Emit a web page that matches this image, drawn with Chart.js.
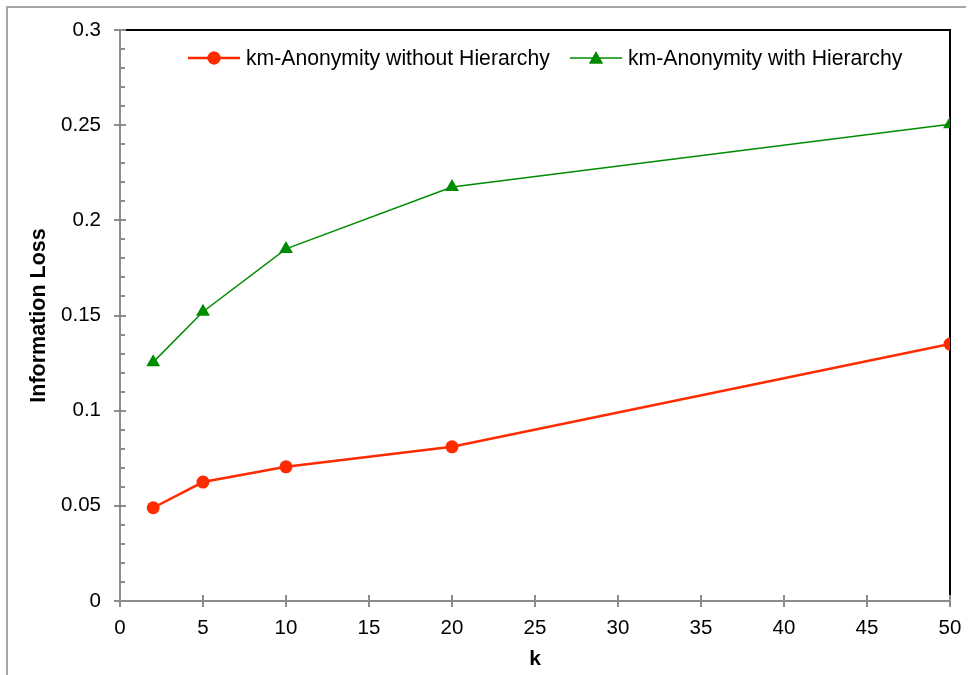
<!DOCTYPE html>
<html><head><meta charset="utf-8">
<script src="https://cdn.jsdelivr.net/npm/chart.js@4/dist/chart.umd.min.js"></script>
<style>html,body{margin:0;padding:0;background:#fff;overflow:hidden}#wrap{position:relative;width:973px;height:675px}</style>
</head><body><div id="wrap"><canvas id="c" width="973" height="675"></canvas></div>
<script>
// ---- data ----
const kValues = [2, 5, 10, 20, 50];
const withoutHierarchy = [0.049, 0.0625, 0.0705, 0.081, 0.135];
const withHierarchy = [0.1255, 0.152, 0.185, 0.2175, 0.2505];
const seriesNames = ['km-Anonymity without Hierarchy', 'km-Anonymity with Hierarchy'];
const xTitle = 'k';
const yTitle = 'Information Loss';
const yMajorLabels = ['0', '0.05', '0.1', '0.15', '0.2', '0.25', '0.3'];

// ---- styles ----
const RED = '#ff2a00', GREEN = '#008c00', AXIS = '#8c8c8c';
const FONT = "'Liberation Sans', Arial, sans-serif";
Chart.defaults.font.family = FONT;
Chart.defaults.color = '#000';

const isMajor = v => Math.round(v * 100) % 5 === 0;

const decor = {
  id: 'decor',
  beforeDraw(chart) {
    const c = chart.ctx;
    c.save();
    c.strokeStyle = '#a6a6a6'; c.lineWidth = 2;
    c.beginPath(); c.moveTo(7, 676); c.lineTo(7, 7); c.lineTo(966, 7); c.stroke();
    c.restore();
  },
  beforeDatasetsDraw(chart) {
    const c = chart.ctx, a = chart.chartArea;
    const xs = chart.scales.x, ys = chart.scales.y;
    c.save();
    c.strokeStyle = '#000'; c.lineWidth = 2;
    c.beginPath(); c.moveTo(a.left, a.top); c.lineTo(a.right, a.top); c.lineTo(a.right, a.bottom); c.stroke();
    c.strokeStyle = AXIS; c.lineWidth = 2;
    c.beginPath();
    ys.ticks.forEach(t => {
      const py = Math.round(ys.getPixelForValue(t.value));
      const len = isMajor(t.value) ? 6 : 5;
      c.moveTo(a.left, py); c.lineTo(a.left + len, py);
    });
    xs.ticks.forEach(t => {
      const px = Math.round(xs.getPixelForValue(t.value));
      c.moveTo(px, a.bottom); c.lineTo(px, a.bottom - 6);
    });
    c.stroke();
    c.restore();
  },
  afterDraw(chart) {
    const c = chart.ctx, a = chart.chartArea;
    const ly = a.top + 28;
    const items = [
      {x: a.left + 68, color: RED, lw: 2.5, style: 'circle', r: 6.5, text: seriesNames[0]},
      {x: a.left + 450, color: GREEN, lw: 1.5, style: 'triangle', r: 8, text: seriesNames[1]}
    ];
    c.save();
    items.forEach(it => {
      c.strokeStyle = it.color; c.lineWidth = it.lw;
      c.beginPath(); c.moveTo(it.x, ly); c.lineTo(it.x + 52, ly); c.stroke();
      c.fillStyle = it.color;
      Chart.helpers.drawPoint(c, {pointStyle: it.style, radius: it.r, borderWidth: 0}, it.x + 26, ly + (it.style === 'triangle' ? 1.5 : 0));
      c.fill();
      c.fillStyle = '#000';
      c.font = '21.2px ' + FONT;
      c.textBaseline = 'middle'; c.textAlign = 'left';
      c.fillText(it.text, it.x + 58, ly + 1);
    });
    c.restore();
  }
};

new Chart(document.getElementById('c'), {
  type: 'line',
  data: {
    datasets: [
      {
        label: seriesNames[0],
        data: kValues.map((k, i) => ({x: k, y: withoutHierarchy[i]})),
        borderColor: RED, backgroundColor: RED, borderWidth: 2.5,
        pointStyle: 'circle', pointRadius: 6.5, pointBackgroundColor: RED, pointBorderColor: RED, pointBorderWidth: 0,
        tension: 0
      },
      {
        label: seriesNames[1],
        data: kValues.map((k, i) => ({x: k, y: withHierarchy[i]})),
        borderColor: GREEN, backgroundColor: GREEN, borderWidth: 1.5,
        pointStyle: 'triangle', pointRadius: 8, pointBackgroundColor: GREEN, pointBorderColor: GREEN, pointBorderWidth: 0,
        tension: 0
      }
    ]
  },
  options: {
    responsive: false, animation: false, devicePixelRatio: 1,
    layout: {padding: {left: 0, top: 30, right: 23, bottom: 0}},
    plugins: {legend: {display: false}, tooltip: {enabled: false}},
    scales: {
      x: {
        type: 'linear', min: 0, max: 50,
        afterFit(s) { s.height = 74; },
        ticks: {stepSize: 5, color: '#000', font: {size: 20.5}, padding: 9, maxRotation: 0},
        grid: {drawOnChartArea: false, drawTicks: true, tickLength: 6, color: AXIS, lineWidth: 2},
        border: {display: true, color: AXIS, width: 2},
        title: {display: true, text: xTitle, color: '#000', font: {size: 21, weight: 'bold'}, padding: {top: 0, bottom: 3}}
      },
      y: {
        type: 'linear', min: 0, max: 0.3,
        afterFit(s) { s.width = 120; },
        ticks: {
          stepSize: 0.01, autoSkip: false, color: '#000', font: {size: 20.5}, padding: 13,
          callback: v => isMajor(v) ? yMajorLabels[Math.round(v * 100) / 5] : ''
        },
        grid: {
          drawOnChartArea: false, drawTicks: true, tickLength: 6, lineWidth: 2,
          color: ctx => (ctx.tick && isMajor(ctx.tick.value)) ? AXIS : 'rgba(0,0,0,0)'
        },
        border: {display: true, color: AXIS, width: 2},
        title: {display: true, text: yTitle, color: '#000', font: {size: 21.5, weight: 'bold'}, padding: {top: 26, bottom: 0}}
      }
    }
  },
  plugins: [decor]
});
</script>
</body></html>
